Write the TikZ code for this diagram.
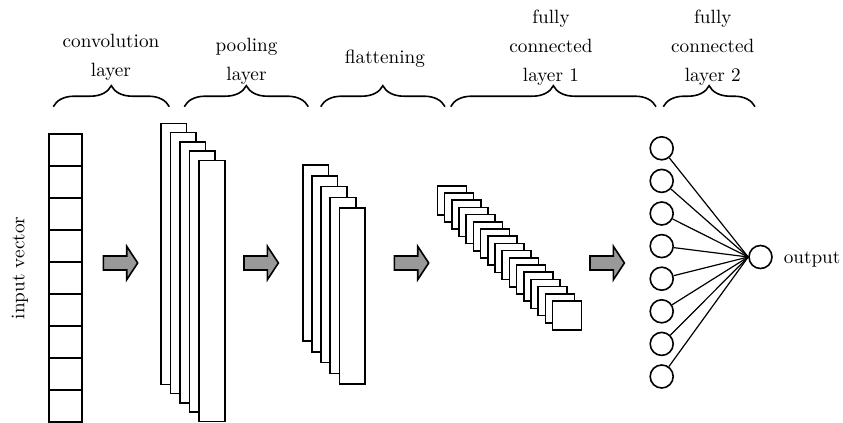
\documentclass[tikz,border=0pt]{standalone}
\usetikzlibrary{decorations.pathreplacing}
\begin{document}
\begin{tikzpicture}[x=0.5pt,y=-0.5pt,line width=0.8pt,
  every node/.style={font=\fontsize{9.6}{14.3}\selectfont},
  headtext/.style={align=center,anchor=north,inner sep=0pt},
  layerbrace/.style={decorate,decoration={brace,amplitude=10.5pt}},
  sheet/.style={draw,fill=white},
  neuron/.style={circle,draw,minimum size=11.5pt,inner sep=0pt},
  link/.style={line width=0.6pt},
  blockarrow/.pic={
    \draw[fill=black!40,line join=miter]
      (0,-7) -- (23.4,-7) -- (23.4,-16.7) -- (34.4,0) -- (23.4,16.7)
      -- (23.4,7) -- (0,7) -- cycle;
  }]
\useasboundingbox (0,0) rectangle (843,423);

% layer captions and braces
\node[headtext] (convcap) at (111,33.5) {convolution\\layer};
\node[headtext] (poolcap) at (246.5,37.5) {pooling\\layer};
\node[headtext] (flatcap) at (385,49.3) {flattening};
\node[headtext] (fconecap) at (551,9.5) {fully\\connected\\layer 1};
\node[headtext] (fctwocap) at (712.8,9.5) {fully\\connected\\layer 2};

\draw[layerbrace] (53.3,106.7) -- (169.3,106.7);
\draw[layerbrace] (184.3,106.7) -- (308.3,106.7);
\draw[layerbrace] (320.7,106.7) -- (445,106.7);
\draw[layerbrace] (450.7,106.7) -- (656,106.7);
\draw[layerbrace] (663.3,106.7) -- (755,106.7);

% input vector
\foreach \k in {0,...,8}
  \draw (49,134+32*\k) rectangle ++(33,32);
\node[rotate=90] (inputcap) at (20,268) {input vector};

% convolution feature maps
\foreach \i in {0,...,4}
  \draw[sheet] (160.7+9.6*\i,123.3+9.25*\i) rectangle ++(25.7,261);

% pooled feature maps
\foreach \i in {0,...,4}
  \draw[sheet] (302.7+9.15*\i,165+10.8*\i) rectangle ++(25.7,176);

% flattened units
\foreach \i in {0,...,16}
  \draw[sheet] (437.3+7.2*\i,185.7+7.2*\i) rectangle ++(29,29);

% arrows between stages
\pic at (103.3,263) {blockarrow};
\pic at (244,263) {blockarrow};
\pic at (394.3,263) {blockarrow};
\pic at (590,263) {blockarrow};

% fully connected layer
\node[neuron] (out) at (760.5,257) {};
\foreach \k in {1,...,8}{
  \node[neuron] (n\k) at (661.7,148.3+32.6*\k-32.6) {};
  \draw[link] (n\k) -- (out.west);
}
\node[anchor=base west,inner sep=0pt] (outcap) at (783,263.3) {output};
\end{tikzpicture}
\end{document}
